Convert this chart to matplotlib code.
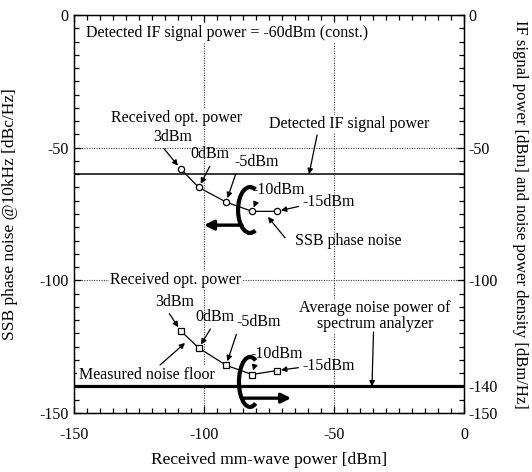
import matplotlib
matplotlib.use("Agg")
import matplotlib.pyplot as plt
from matplotlib.patches import Arc
from matplotlib.ticker import MultipleLocator

plt.rcParams['font.family'] = ['Liberation Serif', 'DejaVu Serif']
plt.rcParams['axes.unicode_minus'] = False

# received optical power and the mm-wave power it produces
opt_power_labels = ['3dBm', '0dBm', '-5dBm', '-10dBm', '-15dBm']
mmwave_power = [-109, -102, -91.5, -81.5, -72]
ssb_phase_noise = [-58, -65, -70.5, -74, -74]
noise_floor = [-119, -125.5, -132, -135.5, -134]

if_signal_power = -60
analyzer_noise = -140

x_ticks = [-150, -100, -50, 0]
left_ticks = [0, -50, -100, -150]
right_ticks = [0, -50, -100, -140, -150]

# label placement (pixels from each marker) and where the arrow leaves the text
phase_offsets = [(-8, 32), (11, 33), (31, 40), (27, 21), (52, 9)]
phase_relpos = [(0.2, 0), (0.55, 0), (0.05, 0), (0.1, 0.1), (0, 0.3)]
floor_offsets = [(-6, 29), (16, 31), (33, 43), (25, 21), (52, 5)]
floor_relpos = [(0.3, 0), (0.45, 0), (0.02, 0), (0.1, 0.1), (0, 0.4)]

FS = 11.5
arrow_kw = dict(arrowstyle='-|>', color='black', lw=0.9, mutation_scale=8)
white = dict(facecolor='white', edgecolor='none', pad=1.0)

fig = plt.figure(figsize=(5.32, 4.72), dpi=100)
ax = fig.add_axes([74 / 532, 1 - 413 / 472, 390 / 532, 398 / 472])
ax.set_xlim(-150, 0)
ax.set_ylim(-150, 0)

# dotted grid at the major values
for v in (-50, -100):
    ax.axhline(v, color='0.25', lw=0.8, ls=(0, (1, 1.2)), zorder=1)
    ax.axvline(v, color='0.25', lw=0.8, ls=(0, (1, 1.2)), zorder=1)

ax.axhline(if_signal_power, color='black', lw=1.1, zorder=2)
ax.axhline(analyzer_noise, color='black', lw=2.3, zorder=2)

ax.plot(mmwave_power, ssb_phase_noise, color='black', lw=0.9, marker='o',
        ms=4.5, mfc='white', mec='black', mew=0.9, zorder=4)
ax.plot(mmwave_power, noise_floor, color='black', lw=0.9, marker='s',
        ms=5, mfc='white', mec='black', mew=0.9, zorder=4)

for x, y, lab, off, rp in zip(mmwave_power, ssb_phase_noise, opt_power_labels,
                               phase_offsets, phase_relpos):
    ax.annotate(lab, xy=(x, y), xytext=off, textcoords='offset pixels',
                ha='center', va='center', fontsize=FS, zorder=5,
                arrowprops=dict(arrow_kw, relpos=rp, shrinkA=1, shrinkB=3))
for x, y, lab, off, rp in zip(mmwave_power, noise_floor, opt_power_labels,
                               floor_offsets, floor_relpos):
    ax.annotate(lab, xy=(x, y), xytext=off, textcoords='offset pixels',
                ha='center', va='center', fontsize=FS, zorder=5,
                arrowprops=dict(arrow_kw, relpos=rp, shrinkA=1, shrinkB=3))

ax.text(-145.5, -6.8, 'Detected IF signal power = -60dBm (const.)',
        ha='left', va='center', fontsize=FS, bbox=white, zorder=3)
ax.text(-110.6, -38.8, 'Received opt. power', ha='center', va='center',
        fontsize=FS, bbox=white, zorder=3)
ax.text(-110.8, -100, 'Received opt. power', ha='center', va='center',
        fontsize=FS, bbox=white, zorder=3)

ax.text(-44.2, -41.1, 'Detected IF signal power', ha='center', va='center',
        fontsize=FS, bbox=white, zorder=3)
ax.annotate('', xy=(-59.6, if_signal_power), xytext=(-56.5, -45.2),
            arrowprops=dict(arrow_kw, shrinkA=0, shrinkB=0))

ax.text(-65, -85.2, 'SSB phase noise', ha='left', va='center',
        fontsize=FS, zorder=3)
ax.annotate('', xy=(-75.4, -76.1), xytext=(-68.8, -84),
            arrowprops=dict(arrow_kw, shrinkA=0, shrinkB=0))

ax.text(-122.1, -135.7, 'Measured noise floor', ha='center', va='center',
        fontsize=FS, bbox=white, zorder=3)
ax.annotate('', xy=(-107.3, -123.6), xytext=(-116.9, -131.9),
            arrowprops=dict(arrow_kw, shrinkA=0, shrinkB=0))

ax.text(-34.2, -113.5, 'Average noise power of\nspectrum analyzer',
        ha='center', va='center', fontsize=FS, linespacing=1.0,
        bbox=white, zorder=3)
ax.annotate('', xy=(-35.4, analyzer_noise), xytext=(-34.8, -119.5),
            arrowprops=dict(arrow_kw, shrinkA=0, shrinkB=0))

# curled brackets with the direction of decreasing optical power
ax.add_patch(Arc((-82.3, -73.5), 9.2, 17.3, theta1=75, theta2=285,
                 lw=3.0, color='black', zorder=6))
ax.annotate('', xy=(-100, -79.2), xytext=(-85.4, -79.2),
            arrowprops=dict(arrowstyle='-|>', color='black', lw=2.4,
                            mutation_scale=14, shrinkA=0, shrinkB=0), zorder=6)
ax.add_patch(Arc((-82.3, -138.3), 8.5, 18.8, theta1=75, theta2=285,
                 lw=3.0, color='black', zorder=6))
ax.annotate('', xy=(-66.5, -144.4), xytext=(-85, -144.4),
            arrowprops=dict(arrowstyle='-|>', color='black', lw=2.4,
                            mutation_scale=14, shrinkA=0, shrinkB=0), zorder=6)

# axes, ticks and labels
ax.set_xticks(x_ticks)
ax.set_xticklabels([str(t) for t in x_ticks])
ax.set_yticks(left_ticks)
ax.set_yticklabels([str(t) for t in left_ticks])
ax.xaxis.set_minor_locator(MultipleLocator(5))
ax.yaxis.set_minor_locator(MultipleLocator(5))
ax.tick_params(which='both', direction='in', top=True, right=False,
               labelsize=FS, width=0.9)
ax.tick_params(axis='x', pad=10)
ax.tick_params(axis='y', pad=4)
ax.tick_params(which='major', length=5)
ax.tick_params(which='minor', length=3.5)
for sp in ax.spines.values():
    sp.set_linewidth(1.0)

ax2 = ax.twinx()
ax2.set_ylim(-150, 0)
ax2.set_yticks(right_ticks)
ax2.set_yticklabels([str(t) for t in right_ticks])
ax2.yaxis.set_minor_locator(MultipleLocator(5))
ax2.tick_params(which='both', direction='in', labelsize=FS, width=0.9, pad=3)
ax2.tick_params(which='major', length=5)
ax2.tick_params(which='minor', length=3.5)

ax.set_xlabel('Received mm-wave power [dBm]', fontsize=12.5, va='center')
ax.xaxis.set_label_coords(0.5, -0.118)
ax.set_ylabel('SSB phase noise @10kHz [dBc/Hz]', fontsize=12.5)
ax.yaxis.set_label_coords(-0.144, 0.5)
ax2.set_ylabel('IF signal power [dBm] and noise power density [dBm/Hz]',
               fontsize=12, rotation=-90, va='center')
ax2.yaxis.set_label_coords(1.144, 0.5)

fig.savefig('out.png', dpi=100)
